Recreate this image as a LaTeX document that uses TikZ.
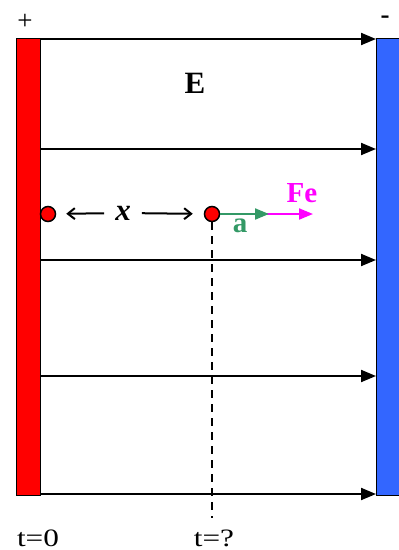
\documentclass[tikz,border=0pt]{standalone}
\usepackage{fontspec}
\setmainfont{Liberation Serif}
\usetikzlibrary{arrows.meta, positioning}
\definecolor{mRed}{HTML}{FF0000}
\definecolor{mBlue}{HTML}{3366FF}
\definecolor{mGreen}{HTML}{339966}
\definecolor{mMagenta}{HTML}{FF00FF}
\tikzset{
  plate/.style={draw, line width=1pt, minimum width=24pt, minimum height=457pt, inner sep=0pt},
  field/.style={line width=2pt, -{Triangle[length=15pt, width=12pt]}},
  charge/.style={circle, draw, line width=1.5pt, fill=mRed, minimum size=15pt, inner sep=0pt},
  dist/.style={line width=2pt, -{Straight Barb[length=7pt, width=11pt, line width=2pt]}},
  vec/.style={line width=2pt, -{Triangle[length=14pt, width=11pt]}},
  lbl/.style={font=\fontsize{25}{25}\selectfont, inner sep=0pt},
  big/.style={font=\fontsize{31}{31}\selectfont\bfseries}
}
\newcommand{\wide}[1]{\scalebox{1.25}[1]{#1}}
\begin{document}
\begin{tikzpicture}[x=1pt, y=-1pt]
    \useasboundingbox (0,0) rectangle (399,550);
    % plates
    \node[plate, fill=mRed] (pos) at (28,266.5) {};
    \node[plate, fill=mBlue, minimum width=34pt] (neg) at (393,266.5) {};
    \node[lbl, font=\fontsize{27}{27}\selectfont] (plus) at (25,22) {+};
    \node[lbl, font=\fontsize{27}{27}\selectfont\bfseries] (minus) at (385,20) {-};
    % field lines
    \foreach \y [count=\i] in {39,149,260,376,494} {
      \coordinate (l\i) at (40,\y);
      \coordinate (r\i) at (376,\y);
      \draw[field] (l\i) -- (r\i);
    }
    \node[big] (E) at (195,83) {E};
    % charges
    \node[charge] (p1) at (48,214) {};
    \node[charge] (p2) at (212,214) {};
    \node[big, font=\fontsize{31}{31}\selectfont\bfseries\itshape, inner xsep=11pt] (xlab) at (123,213) {x};
    \draw[dist, shorten >=10pt] (xlab) -- (p1);
    \draw[dist, shorten >=11pt] (xlab) -- (p2);
    % force and acceleration
    \coordinate (fe) at (313,214);
    \coordinate (acc) at (269,214);
    \draw[vec, mMagenta] (p2.east) -- (fe);
    \draw[vec, mGreen] (p2.east) -- (acc);
    \node[big, mMagenta, font=\fontsize{29}{29}\selectfont\bfseries] (Fe) at (302,193) {Fe};
    \node[big, mGreen, font=\fontsize{29}{29}\selectfont\bfseries] (alab) at (240,226) {a};
    % time marks
    \coordinate (tq) at (212,518);
    \draw[line width=1.3pt, dash pattern=on 8pt off 6pt] (p2.south) -- (tq);
    \node[lbl, anchor=base] (t0) at (38,546) {\wide{t=0}};
    \node[lbl, anchor=base] (t1) at (214,546) {\wide{t=?}};
\end{tikzpicture}
\end{document}
